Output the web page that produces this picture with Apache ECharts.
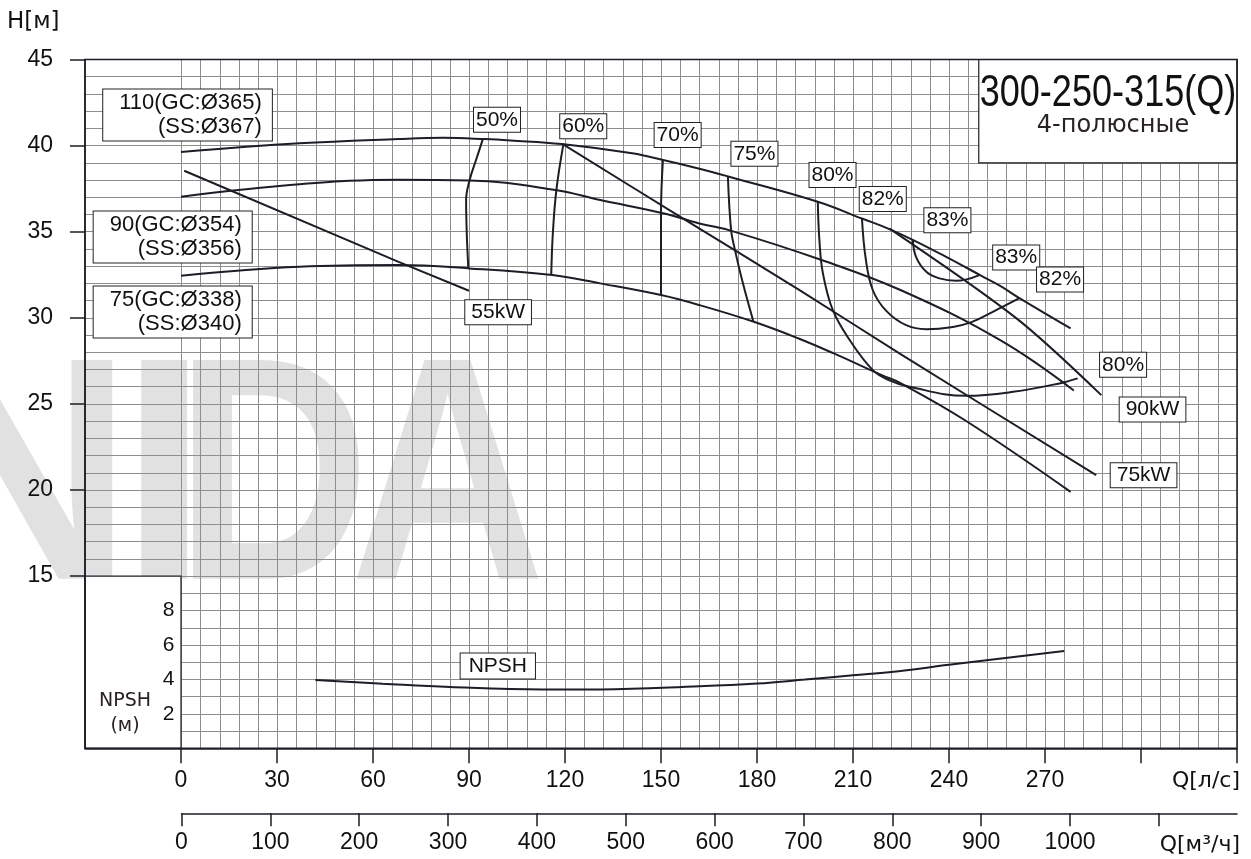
<!DOCTYPE html>
<html>
<head>
<meta charset="utf-8">
<script src="https://cdn.jsdelivr.net/npm/echarts@6/dist/echarts.min.js"></script>
<style>
html, body { margin: 0; padding: 0; background: #fff; }
#chart { width: 1251px; height: 859px; }
</style>
</head>
<body>
<div id="chart"></div>
<script>
// Q in l/s, H in m
var q110 = [0, 37, 68, 82, 95, 103, 119, 141, 151, 162, 171, 199, 213, 221, 229, 240, 250, 256, 262, 278]
var h110 = [39.63, 40.13, 40.38, 40.45, 40.38, 40.3, 40.09, 39.55, 39.15, 38.66, 38.21, 36.74, 35.75, 35.18, 34.5, 33.45, 32.45, 31.85, 31.14, 29.38]

var q90 = [0, 37, 68, 90, 117, 131, 151, 162, 172, 199.5, 225, 256, 279]
var h90 = [37.03, 37.75, 38.02, 37.98, 37.42, 36.84, 36.06, 35.48, 35.05, 33.4, 31.6, 28.7, 25.78]

var q75 = [0, 37, 68, 90, 116, 131, 150, 162, 179, 193, 204, 219, 225, 245, 278]
var h75 = [32.44, 32.96, 33.06, 32.87, 32.48, 32.0, 31.32, 30.74, 29.77, 28.8, 27.93, 26.67, 26.19, 24.05, 19.89]

// power lines
var q55kw = [1, 68, 90]
var h55kw = [38.54, 33.25, 31.57]
var q75kw = [119.3, 156.8, 193.3, 224.5, 286]
var h75kw = [40.09, 35.77, 31.61, 27.93, 20.86]
var q90kw = [221.4, 261, 287.6]
var h90kw = [35.18, 29.98, 25.51]

// efficiency curves
var qE50 = [94.3, 92.2, 90.2, 89.1, 89.3, 89.8]
var hE50 = [40.36, 39.16, 38.0, 36.84, 34.9, 32.87]
var qE60 = [119.5, 117.3, 116.2, 115.7]
var hE60 = [40.09, 37.42, 34.9, 32.48]
var qE70 = [150.6, 150, 150]
var hE70 = [39.16, 36.06, 31.32]
var qE75 = [170.9, 171.9, 173, 175.6, 178.9]
var hE75 = [38.23, 35.09, 34.03, 32.0, 29.77]
var qE80 = [199, 199.5, 200.6, 203.7, 209, 216.2, 221, 227.7, 245.4, 260, 274.5, 280.2]
var hE80 = [36.74, 34.51, 32.58, 30.44, 28.7, 26.96, 26.4, 25.99, 25.47, 25.7, 26.19, 26.48]
var qE82 = [212.8, 214, 216.2, 220.4, 226.6, 232.9, 241.2, 247, 253.7, 262]
var hE82 = [35.77, 33.4, 31.6, 30.4, 29.57, 29.34, 29.47, 29.75, 30.35, 31.14]
var qE83 = [228.7, 229.7, 232.9, 237, 242.2, 249.5]
var hE83 = [34.51, 33.54, 32.67, 32.29, 32.15, 32.48]

// NPSH, m
var qNpsh = [42, 63, 84, 113, 131, 162, 180, 195, 210, 222, 240, 276]
var npsh = [3.96, 3.75, 3.56, 3.42, 3.42, 3.6, 3.76, 3.99, 4.24, 4.43, 4.85, 5.65]

// tags
var tagText = ['50%', '60%', '70%', '75%', '80%', '82%', '83%', '83%', '82%', '80%', '55kW', '90kW', '75kW']
var tagQ = [98.75, 125.7, 155.2, 179.2, 203.6, 219.3, 239.5, 261.0, 274.7, 294.4, 99.1, 303.6, 300.8]
var tagH = [41.5, 41.12, 40.61, 39.52, 38.29, 36.9, 35.66, 33.5, 32.22, 27.27, 30.32, 24.68, 20.86]

var impText = ['110(GC:Ø365)\n(SS:Ø367)', '90(GC:Ø354)\n(SS:Ø356)', '75(GC:Ø338)\n(SS:Ø340)']
var impQ = [28.4, 22.1, 22.1]
var impH = [41.78, 34.69, 30.33]

// axes
var qTicks = [0, 30, 60, 90, 120, 150, 180, 210, 240, 270, 300, 330]
var qLabels = [0, 30, 60, 90, 120, 150, 180, 210, 240, 270]
var m3Ticks = [0, 100, 200, 300, 400, 500, 600, 700, 800, 900, 1000, 1100]
var m3Labels = [0, 100, 200, 300, 400, 500, 600, 700, 800, 900, 1000]
var hLabels = [15, 20, 25, 30, 35, 40, 45]
var npshLabels = [2, 4, 6, 8]

var LINE = '#1b1e26'
var GRIDC = '#8e8e8e'
var TXT = '#111'
var SANS = "'Liberation Sans', Arial, sans-serif"
var ROUND = "'DejaVu Sans', sans-serif"
var MARK = '#e1e1e1'

var GL = 85
var GT = 59.5
var GR = 1237
var GB = 748.3
var X0 = 181.5

function pairs(xs, ys) {
  return xs.map(function(x, i) { return [x, ys[i]] })
}

function curve(name, q, h, smooth, yIdx) {
  return {
    name: name,
    type: 'line',
    xAxisIndex: 0,
    yAxisIndex: yIdx || 0,
    data: pairs(q, h),
    smooth: smooth,
    symbol: 'none',
    lineStyle: { color: LINE, width: 2 },
    z: 3
  }
}

var series = [
  curve('110', q110, h110, 0.4),
  curve('90', q90, h90, 0.4),
  curve('75', q75, h75, 0.4),
  curve('55kW', q55kw, h55kw, false),
  curve('75kW', q75kw, h75kw, 0.3),
  curve('90kW', q90kw, h90kw, 0.3),
  curve('e50', qE50, hE50, 0.4),
  curve('e60', qE60, hE60, 0.4),
  curve('e70', qE70, hE70, 0.4),
  curve('e75', qE75, hE75, 0.4),
  curve('e80', qE80, hE80, 0.4),
  curve('e82', qE82, hE82, 0.4),
  curve('e83', qE83, hE83, 0.4),
  curve('NPSH', qNpsh, npsh, 0.4, 1)
]

// white boxes: NPSH corner and title
series[0].markArea = {
  silent: true,
  label: { show: false },
  itemStyle: { color: '#fff', borderColor: LINE, borderWidth: 1.2 },
  data: [
    [{ coord: [-30, 15] }, { coord: [0, 5] }],
    [{ coord: [249.3, 45] }, { coord: [330, 39.0] }]
  ]
}

var boxLabel = {
  show: true,
  position: 'inside',
  color: TXT,
  opacity: 1,
  fontFamily: SANS,
  fontSize: 21,
  lineHeight: 22,
  backgroundColor: '#fff',
  borderColor: '#222',
  borderWidth: 1,
  padding: [1, 2, 1, 2]
}

function tagSeries(yIdx, items, label) {
  return {
    type: 'scatter',
    xAxisIndex: 0,
    yAxisIndex: yIdx,
    symbolSize: 0,
    itemStyle: { color: '#000', opacity: 1 },
    emphasis: { disabled: true },
    z: 6,
    data: items,
    label: label
  }
}

series.push(tagSeries(0, tagText.map(function(t, i) {
  return {
    value: [tagQ[i], tagH[i]],
    label: { formatter: t, padding: t.indexOf('kW') > 0 ? [1, 6, 1, 6] : [1, 2, 1, 2] }
  }
}), boxLabel))

series.push(tagSeries(0, impText.map(function(t, i) {
  return { value: [impQ[i], impH[i]], label: { formatter: t } }
}), Object.assign({}, boxLabel, { align: 'right', fontSize: 22, lineHeight: 24, padding: [2, 10, 1, 16] })))

series.push(tagSeries(1, [{ value: [99.0, 4.78], label: { formatter: 'NPSH' } }],
  Object.assign({}, boxLabel, { padding: [2, 8, 1, 8] })))

var axisLine = { show: true, onZero: false, lineStyle: { color: LINE, width: 1.5 } }
var tickStyle = { color: LINE, width: 1.5 }
var plain = function(v) { return String(v) }

// faint logo letters behind the grid
var markFont = 'bold 318px ' + SANS
function markLetter(ch, x, sx) {
  return { type: 'text', z: -1, silent: true, x: x, y: 491, scaleX: sx, style: { text: ch, font: markFont, fill: MARK, verticalAlign: 'middle' } }
}

var option = {
  backgroundColor: '#fff',
  animation: false,
  grid: [
    { left: GL, top: GT, width: GR - GL, height: GB - GT },
    { left: X0, top: GT, width: GR - X0, height: GB - GT },
    { left: X0, top: 800, width: GR - X0, height: 13.3 }
  ],
  xAxis: [
    {
      gridIndex: 0, type: 'value', min: -30, max: 330, interval: 30, position: 'bottom',
      axisLine: axisLine,
      axisTick: { show: true, customValues: qTicks, length: 15, lineStyle: tickStyle },
      axisLabel: { customValues: qLabels, formatter: plain, margin: 21, fontSize: 23, color: TXT, fontFamily: SANS },
      splitLine: { show: false }
    },
    {
      gridIndex: 1, type: 'value', min: 0, max: 330, interval: 6,
      axisLine: { show: false }, axisTick: { show: false }, axisLabel: { show: false },
      splitLine: { show: true, lineStyle: { color: GRIDC, width: 1 } }
    },
    {
      gridIndex: 2, type: 'value', min: 0, max: 1188, position: 'bottom',
      axisLine: axisLine,
      axisTick: { show: true, customValues: m3Ticks, length: 13, lineStyle: tickStyle },
      axisLabel: { customValues: m3Labels, formatter: plain, margin: 18, fontSize: 23, color: TXT, fontFamily: SANS },
      splitLine: { show: false }
    }
  ],
  yAxis: [
    {
      gridIndex: 0, type: 'value', min: 5, max: 45, interval: 5, z: 4,
      axisLine: axisLine,
      axisTick: { show: true, customValues: hLabels, length: 15, lineStyle: tickStyle },
      axisLabel: { customValues: hLabels, formatter: plain, margin: 32, fontSize: 23, color: TXT, fontFamily: SANS },
      splitLine: { show: false }
    },
    {
      gridIndex: 0, type: 'value', min: 0, max: 40, position: 'left', offset: -(X0 - GL), z: 5,
      axisLine: { show: false, onZero: false }, axisTick: { show: false },
      axisLabel: { customValues: npshLabels, formatter: plain, margin: 7, fontSize: 21, color: TXT, fontFamily: SANS },
      splitLine: { show: false }
    },
    { gridIndex: 1, type: 'value', min: 5, max: 45, show: false },
    { gridIndex: 2, type: 'value', min: 0, max: 1, show: false },
    {
      // 1 m rows across the whole plot
      gridIndex: 0, type: 'value', min: 5, max: 45, interval: 1,
      axisLine: { show: false, onZero: false }, axisTick: { show: false }, axisLabel: { show: false },
      splitLine: { show: true, lineStyle: { color: GRIDC, width: 1 } }
    }
  ],
  graphic: [
    markLetter('N', -96, 1),
    markLetter('I', 120, 1),
    markLetter('D', 175, 0.85),
    markLetter('A', 350, 0.85),
    { type: 'rect', z: 10, silent: true, shape: { x: GL, y: GT, width: GR - GL, height: GB - GT }, style: { fill: 'none', stroke: LINE, lineWidth: 1.5 } },
    { type: 'text', z: 10, x: 1108, y: 94, scaleX: 0.82, style: { text: '300-250-315(Q)', font: '44px ' + SANS, fill: TXT, align: 'center', verticalAlign: 'middle' } },
    { type: 'text', z: 10, x: 1113, y: 126, style: { text: '4-полюсные', font: '24px ' + ROUND, fill: '#2a2222', align: 'center', verticalAlign: 'middle' } },
    { type: 'text', z: 10, x: 7, y: 22, style: { text: 'H[м]', font: '23px ' + ROUND, fill: TXT, verticalAlign: 'middle' } },
    { type: 'text', z: 10, x: 1240, y: 781, style: { text: 'Q[л/с]', font: '22px ' + ROUND, fill: TXT, align: 'right', verticalAlign: 'middle' } },
    { type: 'text', z: 10, x: 1240, y: 845, style: { text: 'Q[м³/ч]', font: '22px ' + ROUND, fill: TXT, align: 'right', verticalAlign: 'middle' } },
    { type: 'text', z: 10, x: 125, y: 714, style: { text: 'NPSH\n(м)', font: '19px ' + ROUND, fill: '#2a2222', align: 'center', verticalAlign: 'middle', lineHeight: 25 } }
  ],
  series: series
}

var chart = echarts.init(document.getElementById('chart'))
chart.setOption(option)
</script>
</body>
</html>
